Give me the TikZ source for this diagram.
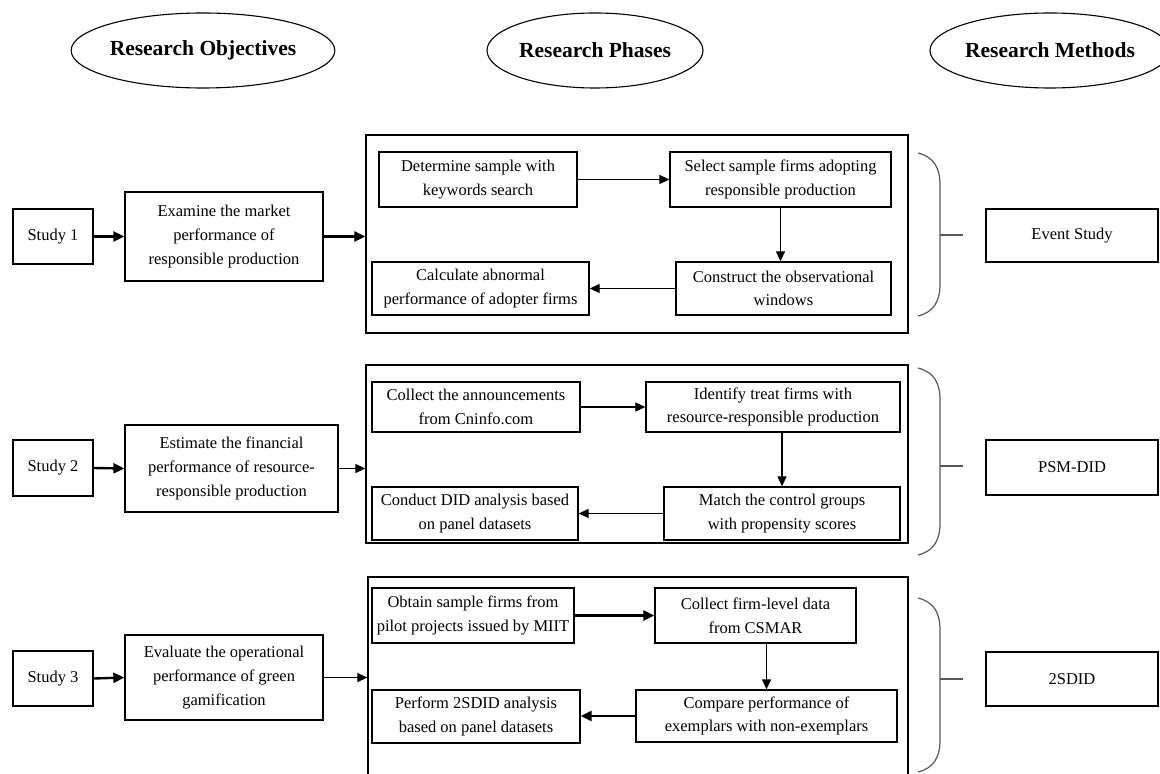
\documentclass[tikz,border=0pt]{standalone}
\usepackage{fontspec}
\setmainfont{Liberation Serif}
\usetikzlibrary{shapes.geometric,arrows.meta}
\newcommand\bodyfont{\fontsize{8.25pt}{11.8pt}\selectfont}
\newcommand\titlefont{\fontsize{10.75pt}{13pt}\selectfont\bfseries}
\tikzset{
  box/.style={draw, line width=0.65pt, align=center, inner sep=0pt, font=\bodyfont},
  bigbox/.style={draw, line width=0.65pt, inner sep=0pt},
  title/.style={draw, ellipse, line width=0.55pt, inner sep=0pt, font=\titlefont},
  arr/.style={line width=0.6pt, -{Triangle[length=5pt,width=4.5pt]}},
  thickarr/.style={line width=1.2pt, -{Triangle[length=5.5pt,width=5pt]}},
  bracestyle/.style={draw=black!65, line width=0.6pt}
}
\begin{document}
\begin{tikzpicture}[x=0.5pt,y=-0.5pt]
\useasboundingbox (0,0) rectangle (1160,774);
\clip (0,0) rectangle (1160,774);
% titles
\node[title, minimum width=120pt, minimum height=37.5pt] (t1) at (203,50.5) {Research Objectives};
\node[title, minimum width=108pt, minimum height=37.5pt] (t2) at (595,50.5) {Research Phases};
\node[title, minimum width=108pt, minimum height=37.5pt] (t3) at (1050,50.5) {Research Methods};

% ---------- Row 1
\node[box, minimum width=40pt, minimum height=27.5pt] (s1) at (53,236.5) {Study 1};
\node[box, minimum width=99pt, minimum height=44.5pt] (o1) at (224,236.5) {Examine the market\\performance of\\responsible production};
\node[bigbox, minimum width=271pt, minimum height=99pt] (B1) at (637,234) {};
\node[box, minimum width=99pt, minimum height=27.5pt] (p11) at (478,179.5) {Determine sample with\\keywords search};
\node[box, minimum width=110.5pt, minimum height=27.5pt] (p12) at (780.5,179.5) {Select sample firms adopting\\responsible production};
\node[box, minimum width=107.5pt, minimum height=26.5pt] (p13) at (783.5,288.5) {Construct the observational\\windows};
\node[box, minimum width=108.5pt, minimum height=26.5pt] (p14) at (480.5,288.5) {Calculate abnormal\\performance of adopter firms};
\node[box, minimum width=86pt, minimum height=26.5pt] (m1) at (1072,235.5) {Event Study};
\draw[thickarr] (s1.east) -- (o1.west);
\draw[thickarr] (o1.east) -- (o1.east -| B1.west);
\draw[arr] (p11.east) -- (p12.west);
\draw[arr] (p12.south) -- (p12.south |- p13.north);
\draw[arr] (p13.west) -- (p14.east);
\draw[bracestyle] (918,153) .. controls (934,157) and (940,168) .. (940,185) -- (940,284) .. controls (940,301) and (934,312) .. (918,316);
\coordinate (b1) at (940,235);
\draw[bracestyle] (b1) -- ++(23,0);

% ---------- Row 2
\node[box, minimum width=40pt, minimum height=28pt] (s2) at (53,468) {Study 2};
\node[box, minimum width=106.5pt, minimum height=43.5pt] (o2) at (231.5,468.5) {Estimate the financial\\performance of resource-\\responsible production};
\node[bigbox, minimum width=271pt, minimum height=89pt] (B2) at (637,454) {};
\node[box, minimum width=104pt, minimum height=25pt] (p21) at (476,407) {Collect the announcements\\from Cninfo.com};
\node[box, minimum width=127pt, minimum height=25pt] (p22) at (773,407) {Identify treat firms with\\resource-responsible production};
\node[box, minimum width=118pt, minimum height=26.5pt] (p23) at (782,513.5) {Match the control groups\\with propensity scores};
\node[box, minimum width=103pt, minimum height=26.5pt] (p24) at (475,513.5) {Conduct DID analysis based\\on panel datasets};
\node[box, minimum width=86pt, minimum height=27.5pt] (m2) at (1072,467.5) {PSM-DID};
\draw[thickarr] (s2.east) -- (o2.west);
\draw[arr] (o2.east) -- (o2.east -| B2.west);
\draw[arr] (p21.east) -- (p21.east -| p22.west);
\draw[arr] (p22.south -| p23.north) -- (p23.north);
\draw[arr] (p23.west) -- (p23.west -| p24.east);
\draw[bracestyle] (918,368) .. controls (934,372) and (940,383) .. (940,400) -- (940,523) .. controls (940,540) and (934,551) .. (918,555);
\coordinate (b2) at (940,466);
\draw[bracestyle] (b2) -- ++(23,0);

% ---------- Row 3
\node[box, minimum width=40pt, minimum height=27.5pt] (s3) at (53,678.5) {Study 3};
\node[box, minimum width=99pt, minimum height=42.5pt] (o3) at (224,677.5) {Evaluate the operational\\performance of green\\gamification};
\node[bigbox, minimum width=270pt, minimum height=110pt] (B3) at (638,687) {};
\node[box, minimum width=101pt, minimum height=27.5pt] (p31) at (473,615.5) {Obtain sample firms from\\pilot projects issued by MIIT};
\node[box, minimum width=100.5pt, minimum height=27.5pt] (p32) at (755.5,615.5) {Collect firm-level data\\from CSMAR};
\node[box, minimum width=130.5pt, minimum height=26pt] (p33) at (766.5,716) {Compare performance of\\exemplars with non-exemplars};
\node[box, minimum width=104pt, minimum height=26.5pt] (p34) at (476,716.5) {Perform 2SDID analysis\\based on panel datasets};
\node[box, minimum width=86pt, minimum height=27pt] (m3) at (1072,679) {2SDID};
\draw[thickarr] (s3.east) -- (o3.west);
\draw[arr] (o3.east) -- (o3.east -| B3.west);
\draw[thickarr] (p31.east) -- (p31.east -| p32.west);
\draw[arr] (p32.south -| p33.north) -- (p33.north);
\draw[thickarr] (p33.west) -- (p33.west -| p34.east);
\draw[bracestyle] (918,598) .. controls (934,602) and (940,613) .. (940,630) -- (940,740) .. controls (940,757) and (934,768) .. (918,772);
\coordinate (b3) at (940,679);
\draw[bracestyle] (b3) -- ++(23,0);
\end{tikzpicture}
\end{document}
